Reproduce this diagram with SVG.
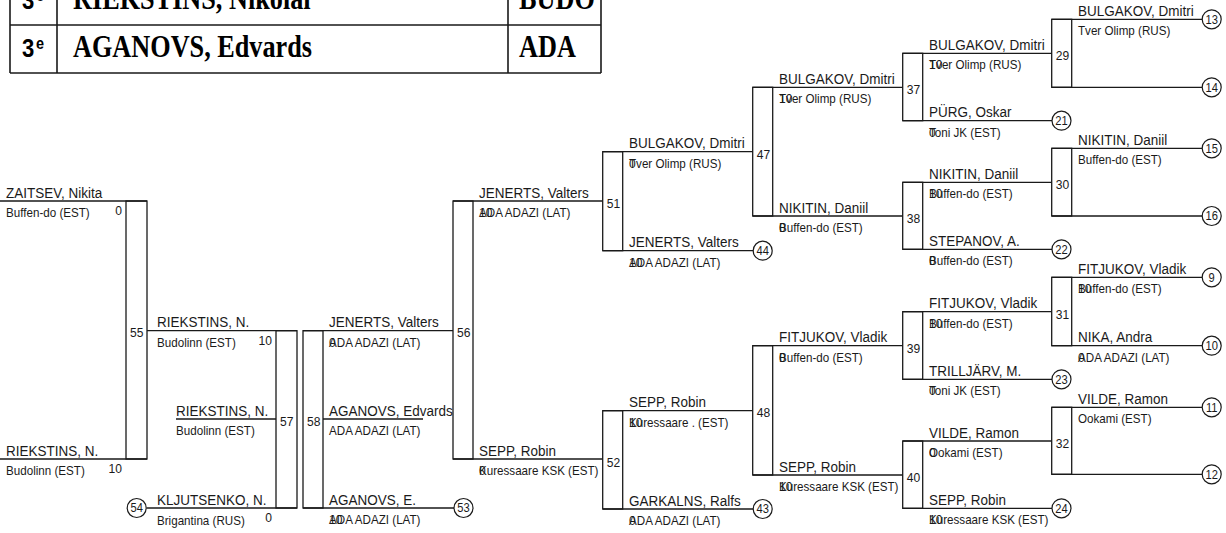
<svg xmlns="http://www.w3.org/2000/svg" width="1226" height="533" viewBox="0 0 1226 533">
<style>
.ln{stroke:#1a1a1a;stroke-width:1.3;fill:none}
.tb{stroke:#1a1a1a;stroke-width:1.6;fill:none}
.bx{stroke:#1a1a1a;stroke-width:1.3;fill:none}
.cr{stroke:#1a1a1a;stroke-width:1.2;fill:#fff}
text{font-family:"Liberation Sans",Arial,sans-serif;fill:#1a1a1a}
.nm{font-size:14.5px}
.cl{font-size:12.5px}
.sc{font-size:13px}
.se{font-size:13px;text-anchor:end}
.mn{font-size:13px}
.cn{font-size:12px;text-anchor:middle}
.tr{font-family:"Liberation Serif","Times New Roman",serif;font-weight:bold;font-size:32px;fill:#000}
.ta{font-family:"Liberation Sans",Arial,sans-serif;font-weight:bold;fill:#000}
</style>
<rect width="1226" height="533" fill="#fff"/>

<g id="podium">
<path class="tb" d="M10 -2V73M57 -2V73M508 -2V73M601 -2V73M10 25H601M10 73H601"/>
<text class="ta" font-size="26" transform="translate(22 9) scale(.85 1)">3</text>
<text class="ta" font-size="17" transform="translate(36 1) scale(.85 1)">e</text>
<text class="tr" transform="translate(73 9) scale(.82 1)">RIEKSTINS, Nikolai</text>
<text class="tr" transform="translate(519 9) scale(.82 1)">BUDO</text>
<text class="ta" font-size="26" transform="translate(22 57) scale(.85 1)">3</text>
<text class="ta" font-size="17" transform="translate(36 49) scale(.85 1)">e</text>
<text class="tr" transform="translate(73 57) scale(.82 1)">AGANOVS, Edvards</text>
<text class="tr" transform="translate(519 57) scale(.82 1)">ADA</text>
</g>

<g id="connectors">
<path class="ln" d="M0 201H147M0 459H147M147 330.7H297M176 419H276M146.7 508H297M303 330.7H453M323 419H423M303 508H454M453 201H602.7M453 459H602.7
M602.7 151.7H752.7M602.7 250.7H753.2M602.7 410.7H752.7M602.7 509H753.2
M752.7 87.3H902.7M752.7 216H902.7M752.7 345.7H902.7M752.7 475H902.7
M902.7 53.3H1051.7M902.7 120.7H1052M902.7 182.3H1051.7M902.7 249.3H1052M902.7 311.7H1051.7M902.7 379.3H1052M902.7 441H1051.7M902.7 508.3H1052
M1051.7 19.3H1202.2M1051.7 87.3H1202.2M1051.7 148.3H1202.2M1051.7 216H1202.2M1051.7 277.3H1202.2M1051.7 345.7H1202.2M1051.7 407.3H1202.2M1051.7 474.3H1202.2"/>
</g>

<g id="m55"><rect class="bx" x="126" y="201" width="21" height="258"/><text class="mn" transform="translate(130 337) scale(.93 1)">55</text></g>
<g id="m57"><rect class="bx" x="276" y="330.7" width="21" height="177.3"/><text class="mn" transform="translate(280 426.4) scale(.93 1)">57</text></g>
<g id="m58"><rect class="bx" x="303" y="330.7" width="20" height="177.3"/><text class="mn" transform="translate(307 426.4) scale(.93 1)">58</text></g>
<g id="m56"><rect class="bx" x="453" y="201" width="20" height="258"/><text class="mn" transform="translate(457 337) scale(.93 1)">56</text></g>
<g id="m51"><rect class="bx" x="602.7" y="151.7" width="20" height="99"/><text class="mn" transform="translate(606.7 208.2) scale(.93 1)">51</text></g>
<g id="m52"><rect class="bx" x="602.7" y="410.7" width="20" height="98.3"/><text class="mn" transform="translate(606.7 466.9) scale(.93 1)">52</text></g>
<g id="m47"><rect class="bx" x="752.7" y="87.3" width="20" height="128.7"/><text class="mn" transform="translate(756.7 158.7) scale(.93 1)">47</text></g>
<g id="m48"><rect class="bx" x="752.7" y="345.7" width="20" height="129.3"/><text class="mn" transform="translate(756.7 417.4) scale(.93 1)">48</text></g>
<g id="m37"><rect class="bx" x="902.7" y="53.3" width="20" height="67.4"/><text class="mn" transform="translate(906.7 94) scale(.93 1)">37</text></g>
<g id="m38"><rect class="bx" x="902.7" y="182.3" width="20" height="67"/><text class="mn" transform="translate(906.7 222.8) scale(.93 1)">38</text></g>
<g id="m39"><rect class="bx" x="902.7" y="311.7" width="20" height="67.6"/><text class="mn" transform="translate(906.7 352.5) scale(.93 1)">39</text></g>
<g id="m40"><rect class="bx" x="902.7" y="441" width="20" height="67.3"/><text class="mn" transform="translate(906.7 481.7) scale(.93 1)">40</text></g>
<g id="m29"><rect class="bx" x="1051.7" y="19.3" width="20" height="68"/><text class="mn" transform="translate(1055.7 60.3) scale(.93 1)">29</text></g>
<g id="m30"><rect class="bx" x="1051.7" y="148.3" width="20" height="67.7"/><text class="mn" transform="translate(1055.7 189.2) scale(.93 1)">30</text></g>
<g id="m31"><rect class="bx" x="1051.7" y="277.3" width="20" height="68.4"/><text class="mn" transform="translate(1055.7 318.5) scale(.93 1)">31</text></g>
<g id="m32"><rect class="bx" x="1051.7" y="407.3" width="20" height="67"/><text class="mn" transform="translate(1055.7 447.8) scale(.93 1)">32</text></g>

<g id="c54"><circle class="cr" cx="136.7" cy="508" r="9.5"/><text class="cn" transform="translate(136.7 512.3) scale(.93 1)">54</text></g>
<g id="c53"><circle class="cr" cx="463.5" cy="508" r="9.5"/><text class="cn" transform="translate(463.5 512.3) scale(.93 1)">53</text></g>
<g id="c44"><circle class="cr" cx="762.7" cy="250.7" r="9.5"/><text class="cn" transform="translate(762.7 255) scale(.93 1)">44</text></g>
<g id="c43"><circle class="cr" cx="762.7" cy="509" r="9.5"/><text class="cn" transform="translate(762.7 513.3) scale(.93 1)">43</text></g>
<g id="c21"><circle class="cr" cx="1061.5" cy="120.7" r="9.5"/><text class="cn" transform="translate(1061.5 125) scale(.93 1)">21</text></g>
<g id="c22"><circle class="cr" cx="1061.5" cy="249.3" r="9.5"/><text class="cn" transform="translate(1061.5 253.6) scale(.93 1)">22</text></g>
<g id="c23"><circle class="cr" cx="1061.5" cy="379.3" r="9.5"/><text class="cn" transform="translate(1061.5 383.6) scale(.93 1)">23</text></g>
<g id="c24"><circle class="cr" cx="1061.5" cy="508.3" r="9.5"/><text class="cn" transform="translate(1061.5 512.6) scale(.93 1)">24</text></g>
<g id="c13"><circle class="cr" cx="1211.7" cy="19.3" r="9.5"/><text class="cn" transform="translate(1211.7 23.6) scale(.93 1)">13</text></g>
<g id="c14"><circle class="cr" cx="1211.7" cy="87.3" r="9.5"/><text class="cn" transform="translate(1211.7 91.6) scale(.93 1)">14</text></g>
<g id="c15"><circle class="cr" cx="1211.7" cy="148.3" r="9.5"/><text class="cn" transform="translate(1211.7 152.6) scale(.93 1)">15</text></g>
<g id="c16"><circle class="cr" cx="1211.7" cy="216" r="9.5"/><text class="cn" transform="translate(1211.7 220.3) scale(.93 1)">16</text></g>
<g id="c9"><circle class="cr" cx="1211.7" cy="277.3" r="9.5"/><text class="cn" transform="translate(1211.7 281.6) scale(.93 1)">9</text></g>
<g id="c10"><circle class="cr" cx="1211.7" cy="345.7" r="9.5"/><text class="cn" transform="translate(1211.7 350) scale(.93 1)">10</text></g>
<g id="c11"><circle class="cr" cx="1211.7" cy="407.3" r="9.5"/><text class="cn" transform="translate(1211.7 411.6) scale(.93 1)">11</text></g>
<g id="c12"><circle class="cr" cx="1211.7" cy="474.3" r="9.5"/><text class="cn" transform="translate(1211.7 478.6) scale(.93 1)">12</text></g>

<g id="p1"><text class="nm" transform="translate(6 197.7) scale(.93 1)">ZAITSEV, Nikita</text><text class="cl" transform="translate(6 217) scale(.93 1)">Buffen-do (EST)</text><text class="se" transform="translate(122 215) scale(.93 1)">0</text></g>
<g id="p2"><text class="nm" transform="translate(6 455.7) scale(.93 1)">RIEKSTINS, N.</text><text class="cl" transform="translate(6 475) scale(.93 1)">Budolinn (EST)</text><text class="se" transform="translate(122 473) scale(.93 1)">10</text></g>
<g id="p3"><text class="nm" transform="translate(157 327.4) scale(.93 1)">RIEKSTINS, N.</text><text class="cl" transform="translate(157 346.7) scale(.93 1)">Budolinn (EST)</text><text class="se" transform="translate(272 344.7) scale(.93 1)">10</text></g>
<g id="p4"><text class="nm" transform="translate(176 415.7) scale(.93 1)">RIEKSTINS, N.</text><text class="cl" transform="translate(176 435) scale(.93 1)">Budolinn (EST)</text></g>
<g id="p5"><text class="nm" transform="translate(157 504.7) scale(.93 1)">KLJUTSENKO, N.</text><text class="cl" transform="translate(157 525) scale(.93 1)">Brigantina (RUS)</text><text class="se" transform="translate(272 522) scale(.93 1)">0</text></g>
<g id="p6"><text class="nm" transform="translate(329 327.4) scale(.93 1)">JENERTS, Valters</text><text class="cl" transform="translate(329 346.7) scale(.93 1)">ADA ADAZI (LAT)</text><text class="sc" transform="translate(329 346.7) scale(.93 1)">0</text></g>
<g id="p7"><text class="nm" transform="translate(329 415.7) scale(.93 1)">AGANOVS, Edvards</text><text class="cl" transform="translate(329 435) scale(.93 1)">ADA ADAZI (LAT)</text></g>
<g id="p8"><text class="nm" transform="translate(329 504.7) scale(.93 1)">AGANOVS, E.</text><text class="cl" transform="translate(329 524) scale(.93 1)">ADA ADAZI (LAT)</text><text class="sc" transform="translate(329 524) scale(.93 1)">10</text></g>
<g id="p9"><text class="nm" transform="translate(479 197.7) scale(.93 1)">JENERTS, Valters</text><text class="cl" transform="translate(479 217) scale(.93 1)">ADA ADAZI (LAT)</text><text class="sc" transform="translate(479 217) scale(.93 1)">10</text></g>
<g id="p10"><text class="nm" transform="translate(479 455.7) scale(.93 1)">SEPP, Robin</text><text class="cl" transform="translate(479 475) scale(.93 1)">Kuressaare KSK (EST)</text><text class="sc" transform="translate(479 475) scale(.93 1)">0</text></g>
<g id="p11"><text class="nm" transform="translate(629 148.4) scale(.93 1)">BULGAKOV, Dmitri</text><text class="cl" transform="translate(629 167.7) scale(.93 1)">Tver Olimp (RUS)</text><text class="sc" transform="translate(629 167.7) scale(.93 1)">0</text></g>
<g id="p12"><text class="nm" transform="translate(629 247.4) scale(.93 1)">JENERTS, Valters</text><text class="cl" transform="translate(629 266.7) scale(.93 1)">ADA ADAZI (LAT)</text><text class="sc" transform="translate(629 266.7) scale(.93 1)">10</text></g>
<g id="p13"><text class="nm" transform="translate(629 407.4) scale(.93 1)">SEPP, Robin</text><text class="cl" transform="translate(629 426.7) scale(.93 1)">Kuressaare . (EST)</text><text class="sc" transform="translate(629 426.7) scale(.93 1)">10</text></g>
<g id="p14"><text class="nm" transform="translate(629 505.7) scale(.93 1)">GARKALNS, Ralfs</text><text class="cl" transform="translate(629 525) scale(.93 1)">ADA ADAZI (LAT)</text><text class="sc" transform="translate(629 525) scale(.93 1)">0</text></g>
<g id="p15"><text class="nm" transform="translate(779 84) scale(.93 1)">BULGAKOV, Dmitri</text><text class="cl" transform="translate(779 103.3) scale(.93 1)">Tver Olimp (RUS)</text><text class="sc" transform="translate(779 103.3) scale(.93 1)">10</text></g>
<g id="p16"><text class="nm" transform="translate(779 212.7) scale(.93 1)">NIKITIN, Daniil</text><text class="cl" transform="translate(779 232) scale(.93 1)">Buffen-do (EST)</text><text class="sc" transform="translate(779 232) scale(.93 1)">0</text></g>
<g id="p17"><text class="nm" transform="translate(779 342.4) scale(.93 1)">FITJUKOV, Vladik</text><text class="cl" transform="translate(779 361.7) scale(.93 1)">Buffen-do (EST)</text><text class="sc" transform="translate(779 361.7) scale(.93 1)">0</text></g>
<g id="p18"><text class="nm" transform="translate(779 471.7) scale(.93 1)">SEPP, Robin</text><text class="cl" transform="translate(779 491) scale(.93 1)">Kuressaare KSK (EST)</text><text class="sc" transform="translate(779 491) scale(.93 1)">10</text></g>
<g id="p19"><text class="nm" transform="translate(929 50) scale(.93 1)">BULGAKOV, Dmitri</text><text class="cl" transform="translate(929 69.3) scale(.93 1)">Tver Olimp (RUS)</text><text class="sc" transform="translate(929 69.3) scale(.93 1)">10</text></g>
<g id="p20"><text class="nm" transform="translate(929 117.4) scale(.93 1)">PÜRG, Oskar</text><text class="cl" transform="translate(929 136.7) scale(.93 1)">Toni JK (EST)</text><text class="sc" transform="translate(929 136.7) scale(.93 1)">0</text></g>
<g id="p21"><text class="nm" transform="translate(929 179) scale(.93 1)">NIKITIN, Daniil</text><text class="cl" transform="translate(929 198.3) scale(.93 1)">Buffen-do (EST)</text><text class="sc" transform="translate(929 198.3) scale(.93 1)">10</text></g>
<g id="p22"><text class="nm" transform="translate(929 246) scale(.93 1)">STEPANOV, A.</text><text class="cl" transform="translate(929 265.3) scale(.93 1)">Buffen-do (EST)</text><text class="sc" transform="translate(929 265.3) scale(.93 1)">0</text></g>
<g id="p23"><text class="nm" transform="translate(929 308.4) scale(.93 1)">FITJUKOV, Vladik</text><text class="cl" transform="translate(929 327.7) scale(.93 1)">Buffen-do (EST)</text><text class="sc" transform="translate(929 327.7) scale(.93 1)">10</text></g>
<g id="p24"><text class="nm" transform="translate(929 376) scale(.93 1)">TRILLJÄRV, M.</text><text class="cl" transform="translate(929 395.3) scale(.93 1)">Toni JK (EST)</text><text class="sc" transform="translate(929 395.3) scale(.93 1)">0</text></g>
<g id="p25"><text class="nm" transform="translate(929 437.7) scale(.93 1)">VILDE, Ramon</text><text class="cl" transform="translate(929 457) scale(.93 1)">Ookami (EST)</text><text class="sc" transform="translate(929 457) scale(.93 1)">0</text></g>
<g id="p26"><text class="nm" transform="translate(929 505) scale(.93 1)">SEPP, Robin</text><text class="cl" transform="translate(929 524.3) scale(.93 1)">Kuressaare KSK (EST)</text><text class="sc" transform="translate(929 524.3) scale(.93 1)">10</text></g>
<g id="p27"><text class="nm" transform="translate(1078 16) scale(.93 1)">BULGAKOV, Dmitri</text><text class="cl" transform="translate(1078 35.3) scale(.93 1)">Tver Olimp (RUS)</text></g>
<g id="p28"><text class="nm" transform="translate(1078 145) scale(.93 1)">NIKITIN, Daniil</text><text class="cl" transform="translate(1078 164.3) scale(.93 1)">Buffen-do (EST)</text></g>
<g id="p29"><text class="nm" transform="translate(1078 274) scale(.93 1)">FITJUKOV, Vladik</text><text class="cl" transform="translate(1078 293.3) scale(.93 1)">Buffen-do (EST)</text><text class="sc" transform="translate(1078 293.3) scale(.93 1)">10</text></g>
<g id="p30"><text class="nm" transform="translate(1078 342.4) scale(.93 1)">NIKA, Andra</text><text class="cl" transform="translate(1078 361.7) scale(.93 1)">ADA ADAZI (LAT)</text><text class="sc" transform="translate(1078 361.7) scale(.93 1)">0</text></g>
<g id="p31"><text class="nm" transform="translate(1078 404) scale(.93 1)">VILDE, Ramon</text><text class="cl" transform="translate(1078 423.3) scale(.93 1)">Ookami (EST)</text></g>
</svg>
